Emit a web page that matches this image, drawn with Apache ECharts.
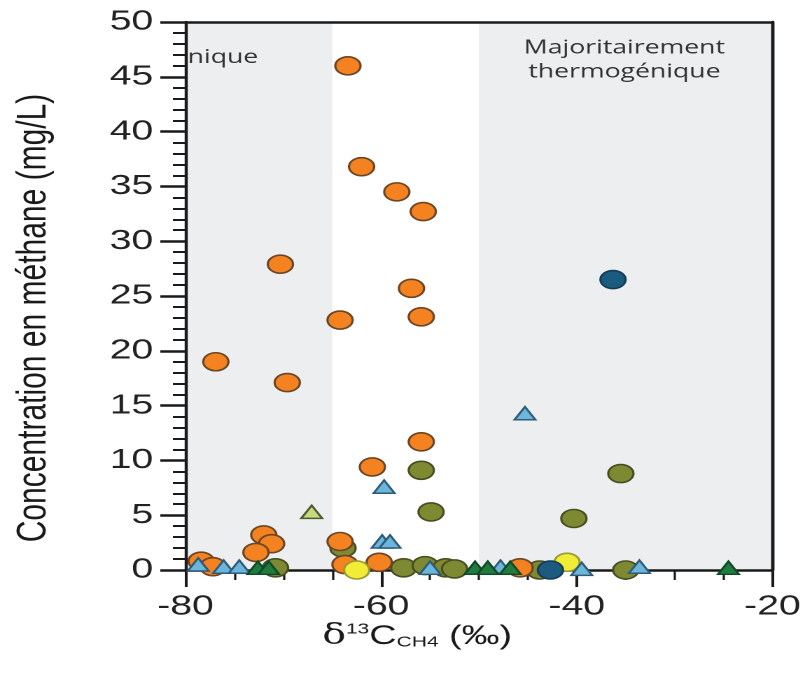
<!DOCTYPE html>
<html>
<head>
<meta charset="utf-8">
<script src="https://cdn.jsdelivr.net/npm/echarts@6/dist/echarts.min.js"></script>
<style>
  html, body { margin: 0; padding: 0; background: #ffffff; overflow: hidden; }
  /* The figure is laid out at a narrower width and widened horizontally,
     which gives the characteristic oval markers and broad lettering. */
  #chart {
    width: 575px; height: 675px;
    transform: scaleX(1.4); transform-origin: 0 0;
  }
</style>
</head>
<body>
<div id="chart"></div>
<script>
// δ13C of methane (‰) versus dissolved methane concentration (mg/L)

// Axis ranges and tick labels
const xTicks = [-80, -60, -40, -20];
const yTicks = [0, 5, 10, 15, 20, 25, 30, 35, 40, 45, 50];

// Shaded source zones (δ13C ranges)
const zoneBiogenic = [-80, -65];
const zoneThermogenic = [-50, -20];

// Orange circles
const orangeX = [-63.4, -62.0, -58.4, -55.7, -70.3, -56.9, -64.2, -55.9, -76.9, -69.6, -55.9, -60.9,
                 -78.4, -77.2, -72.0, -71.2, -72.8, -64.2, -63.7, -60.2, -45.8];
const orangeY = [46.0, 36.8, 34.5, 32.7, 27.9, 25.7, 22.8, 23.1, 19.0, 17.1, 11.7, 9.4,
                 0.8, 0.3, 3.2, 2.4, 1.6, 2.6, 0.5, 0.7, 0.2];

// Olive circles
const oliveX = [-55.9, -54.9, -35.5, -40.3, -63.9, -70.8, -57.7, -55.5, -53.4, -52.5, -43.8, -35.0];
const oliveY = [9.1, 5.3, 8.8, 4.7, 2.0, 0.2, 0.2, 0.4, 0.2, 0.1, 0.0, 0.0];

// Yellow circles
const yellowX = [-62.5, -41.0];
const yellowY = [0.0, 0.7];

// Dark blue circles
const navyX = [-36.3, -42.7];
const navyY = [26.5, 0.0];

// Light blue triangles
const blueTriX = [-45.3, -59.7, -59.9, -59.1, -76.1, -74.5, -78.7, -55.0, -47.8, -39.5, -33.6];
const blueTriY = [14.3, 7.6, 2.6, 2.6, 0.3, 0.3, 0.5, 0.2, 0.3, 0.1, 0.3];

// Light green triangle
const limeTriX = [-67.1];
const limeTriY = [5.3];

// Dark green triangles
const greenTriX = [-72.6, -71.5, -50.4, -49.1, -46.8, -24.5];
const greenTriY = [0.2, 0.2, 0.2, 0.2, 0.2, 0.2];

const zip = (xs, ys) => xs.map((x, i) => [x, ys[i]]);

const CIRCLE = 18;
const TRI = [15, 13];

function scatter(name, xs, ys, symbol, size, fill, border) {
  return {
    name: name,
    type: 'scatter',
    z: 3,
    symbol: symbol,
    symbolSize: size,
    data: zip(xs, ys),
    itemStyle: { color: fill, borderColor: border, borderWidth: 1.6, opacity: 1 },
    emphasis: { disabled: true },
    xAxisIndex: 0,
    yAxisIndex: 0
  };
}

const chart = echarts.init(document.getElementById('chart'), null, { renderer: 'canvas', devicePixelRatio: 2 });

const axisBlack = '#1a1a1a';
const sans = 'Liberation Sans, Arial, sans-serif';
const humanist = 'Open Sans, Noto Sans, sans-serif';

chart.setOption({
  animation: false,
  backgroundColor: '#ffffff',
  grid: { left: 132.5, right: 18, top: 22, bottom: 105, containLabel: false },
  xAxis: [
    {
      type: 'value', min: -80, max: -20, interval: 20, z: 2,
      axisLine: { show: true, onZero: false, lineStyle: { color: axisBlack, width: 2.5 } },
      axisTick: { show: true, length: 17, lineStyle: { color: axisBlack, width: 2 } },
      minorTick: { show: true, splitNumber: 4, length: 10, lineStyle: { color: axisBlack, width: 1.6 } },
      splitLine: { show: false },
      axisLabel: {
        margin: 23, fontSize: 28, color: '#222', fontFamily: sans,
        formatter: v => (xTicks.includes(v) ? String(v) : '')
      }
    },
    {
      type: 'value', min: -80, max: -20, position: 'top', z: 2,
      axisLine: { show: true, onZero: false, lineStyle: { color: axisBlack, width: 2.5 } },
      axisTick: { show: false }, axisLabel: { show: false }, splitLine: { show: false }
    }
  ],
  yAxis: [
    {
      type: 'value', min: 0, max: 50, interval: 5, z: 2,
      axisLine: { show: true, onZero: false, lineStyle: { color: axisBlack, width: 2.2 } },
      axisTick: { show: true, length: 18, lineStyle: { color: axisBlack, width: 2.5 } },
      minorTick: { show: true, splitNumber: 5, length: 9, lineStyle: { color: axisBlack, width: 2 } },
      splitLine: { show: false },
      axisLabel: {
        margin: 23, fontSize: 28, color: '#222', fontFamily: sans,
        formatter: v => (yTicks.includes(v) ? String(v) : '')
      }
    },
    {
      type: 'value', min: 0, max: 50, position: 'right', z: 2,
      axisLine: { show: true, onZero: false, lineStyle: { color: axisBlack, width: 2.4 } },
      axisTick: { show: false }, axisLabel: { show: false }, splitLine: { show: false }
    }
  ],
  series: [
    {
      name: 'zones',
      type: 'scatter',
      z: 0,
      data: [],
      silent: true,
      markArea: {
        silent: true,
        itemStyle: { color: '#eceeef' },
        label: { show: false },
        data: [
          [{ xAxis: zoneBiogenic[0], yAxis: 0 }, { xAxis: zoneBiogenic[1], yAxis: 50 }],
          [{ xAxis: zoneThermogenic[0], yAxis: 0 }, { xAxis: zoneThermogenic[1], yAxis: 50 }]
        ]
      }
    },
    scatter('olive', oliveX, oliveY, 'circle', CIRCLE, '#7e8a32', '#4a4d22'),
    scatter('orange', orangeX, orangeY, 'circle', CIRCLE, '#f58220', '#6a4526'),
    scatter('yellow', yellowX, yellowY, 'circle', CIRCLE, '#f1ec35', '#9a9a35'),
    scatter('navy', navyX, navyY, 'circle', CIRCLE, '#1c5b80', '#133d58'),
    scatter('blueTri', blueTriX, blueTriY, 'triangle', TRI, '#6cb5dc', '#2e5c78'),
    scatter('limeTri', limeTriX, limeTriY, 'triangle', TRI, '#c6d97e', '#4c5a2c'),
    scatter('greenTri', greenTriX, greenTriY, 'triangle', TRI, '#1f7b3f', '#0f4a26')
  ],
  graphic: [
    {
      type: 'text', left: 134, top: 48, z: 10, silent: true,
      style: { text: 'nique', fontSize: 19, fontFamily: humanist, fill: '#333' }
    },
    {
      type: 'text', x: 446, y: 60, z: 10, silent: true,
      style: {
        text: 'Majoritairement\nthermogénique', fontSize: 19, lineHeight: 24,
        fontFamily: humanist, fill: '#333',
        align: 'center', verticalAlign: 'middle'
      }
    },
    {
      type: 'text', x: 24, y: 318, rotation: Math.PI / 2, z: 10, silent: true,
      style: {
        text: 'Concentration en méthane (mg/L)', fontSize: 30,
        fontFamily: sans, fill: '#1a1a1a',
        align: 'center', verticalAlign: 'middle'
      }
    },
    {
      type: 'text', x: 298, y: 636, z: 10, silent: true,
      style: {
        text: '{d|δ}{sup|13}{c|C}{sub|CH4}{c| (‰)}',
        align: 'center', verticalAlign: 'middle',
        rich: {
          d: { fontSize: 28, fontFamily: 'DejaVu Serif, serif', fill: '#1a1a1a', verticalAlign: 'bottom' },
          sup: { fontSize: 15, fontFamily: sans, fill: '#1a1a1a', verticalAlign: 'top', padding: [0, 0, 12, 0] },
          c: { fontSize: 27, fontFamily: sans, fill: '#1a1a1a', verticalAlign: 'bottom' },
          sub: { fontSize: 15, fontFamily: sans, fill: '#1a1a1a', verticalAlign: 'bottom', padding: [12, 0, 0, 0] }
        }
      }
    }
  ]
});
</script>
</body>
</html>
